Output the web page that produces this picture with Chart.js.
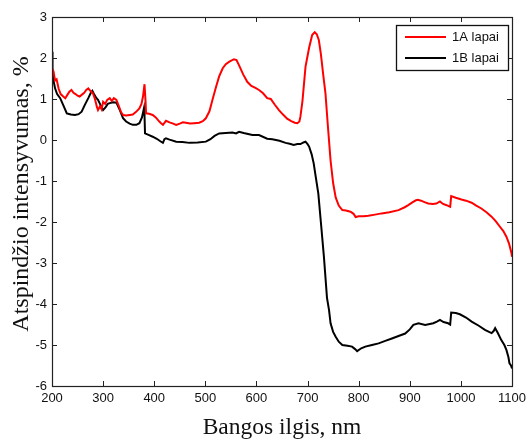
<!DOCTYPE html>
<html>
<head>
<meta charset="utf-8">
<script src="https://cdn.jsdelivr.net/npm/chart.js@4.4.1/dist/chart.umd.min.js"></script>
<style>
  html, body { margin: 0; padding: 0; background: #fff; }
  #wrap { width: 531px; height: 442px; position: relative; }
</style>
</head>
<body>
<div id="wrap"><canvas id="spectrum"></canvas></div>
<script>
// 1A lapai
const nmA = [200,203,206,209,213,217,222,226,230,234,238,242,246,250,254,258,263,267,271,275,280,284,288,290,294,297,300,304,308,313,317,321,326,330,335,339,345,352,358,364,371,375,378,381,383,384,390,397,403,410,414,417,420,423,430,437,443,450,456,462,470,478,488,495,501,508,514,521,527,534,540,547,556,561,566,574,582,590,598,605,613,621,628,636,644,652,660,668,675,680,684,686,690,696,703,709,714,718,722,726,731,735,740,745,750,755,761,768,775,784,790,794,800,810,819,832,845,860,878,890,897,905,912,916,922,930,936,945,952,959,965,972,979,981,990,1001,1010,1021,1030,1040,1050,1060,1068,1076,1083,1089,1094,1099,1100];
const valA = [1.75,1.67,1.45,1.48,1.25,1.12,1.06,1.02,1.10,1.18,1.22,1.15,1.12,1.08,1.06,1.10,1.15,1.22,1.26,1.20,1.14,1.00,0.80,0.73,0.82,0.75,0.93,0.88,0.98,1.02,0.95,1.02,0.98,0.85,0.68,0.61,0.60,0.61,0.62,0.68,0.77,0.88,1.06,1.36,0.95,0.65,0.64,0.61,0.55,0.45,0.40,0.37,0.42,0.47,0.43,0.40,0.37,0.40,0.43,0.42,0.40,0.41,0.42,0.46,0.53,0.70,0.98,1.30,1.55,1.75,1.85,1.91,1.97,1.95,1.82,1.60,1.42,1.32,1.27,1.22,1.14,1.02,1.00,0.86,0.73,0.62,0.52,0.46,0.42,0.41,0.45,0.57,0.95,1.79,2.25,2.56,2.63,2.58,2.44,2.10,1.55,1.14,0.30,-0.50,-1.05,-1.40,-1.60,-1.71,-1.72,-1.75,-1.80,-1.88,-1.86,-1.86,-1.85,-1.82,-1.79,-1.76,-1.71,-1.64,-1.59,-1.52,-1.47,-1.46,-1.48,-1.52,-1.55,-1.56,-1.55,-1.50,-1.56,-1.59,-1.63,-1.37,-1.41,-1.45,-1.48,-1.53,-1.60,-1.67,-1.76,-1.87,-1.98,-2.11,-2.22,-2.36,-2.52,-2.76,-2.85];

// 1B lapai
const nmB = [200,201,203,206,210,216,222,229,237,245,252,258,264,271,276,279,283,287,290,295,300,305,309,313,320,326,332,339,345,352,358,365,371,376,380,381,382,390,397,405,412,417,420,423,430,443,455,469,485,501,510,518,527,540,553,560,566,575,592,605,621,631,645,657,665,673,680,686,692,696,700,703,708,712,716,721,726,732,738,742,745,750,755,761,768,778,787,793,797,805,813,826,839,852,865,878,891,900,907,917,930,946,953,959,966,975,979,981,990,998,1010,1021,1035,1047,1055,1060,1064,1067,1072,1079,1085,1089,1093,1095,1098,1100];
const valB = [2.15,1.70,1.45,1.26,1.12,1.02,0.85,0.65,0.62,0.61,0.63,0.69,0.85,1.02,1.15,1.20,1.10,1.02,0.98,0.85,0.73,0.80,0.88,0.90,0.92,0.91,0.75,0.53,0.45,0.40,0.37,0.37,0.41,0.55,0.78,0.60,0.16,0.12,0.08,0.03,-0.03,-0.07,0.02,0.04,0.01,-0.04,-0.05,-0.07,-0.06,-0.04,0.02,0.10,0.16,0.17,0.18,0.16,0.20,0.17,0.12,0.12,0.03,0.02,-0.02,-0.07,-0.09,-0.12,-0.10,-0.10,-0.06,-0.04,-0.10,-0.16,-0.35,-0.57,-0.90,-1.30,-2.00,-2.85,-3.85,-4.15,-4.47,-4.68,-4.80,-4.92,-5.00,-5.02,-5.04,-5.10,-5.15,-5.08,-5.04,-5.00,-4.96,-4.90,-4.84,-4.78,-4.72,-4.62,-4.51,-4.47,-4.51,-4.47,-4.43,-4.39,-4.44,-4.47,-4.50,-4.21,-4.22,-4.25,-4.33,-4.43,-4.53,-4.63,-4.68,-4.71,-4.66,-4.59,-4.70,-4.88,-5.00,-5.12,-5.30,-5.45,-5.50,-5.57];

const xTicks = [200,300,400,500,600,700,800,900,1000,1100];
const yTicks = [-6,-5,-4,-3,-2,-1,0,1,2,3];
const yTitle = 'Atspindžio intensyvumas, %';

const toPoints = (xs, ys) => xs.map((x, i) => ({ x: x, y: ys[i] }));
const serif = '"Liberation Serif", "Times New Roman", serif';
const sans = '"Liberation Sans", Arial, sans-serif';

// box frame, inward ticks on all four sides, legend inside the plot, y title
const frameAndLegend = {
  id: 'frameAndLegend',
  afterDatasetsDraw(chart) {
    const { ctx, chartArea: a, scales } = chart;
    const tl = 5;
    ctx.save();
    ctx.strokeStyle = '#222';
    ctx.lineWidth = 1;
    ctx.beginPath();
    xTicks.forEach(v => {
      const px = Math.round(scales.x.getPixelForValue(v)) + 0.5;
      ctx.moveTo(px, a.bottom); ctx.lineTo(px, a.bottom - tl);
      ctx.moveTo(px, a.top); ctx.lineTo(px, a.top + tl);
    });
    yTicks.forEach(v => {
      const py = Math.round(scales.y.getPixelForValue(v)) + 0.5;
      ctx.moveTo(a.left, py); ctx.lineTo(a.left + tl, py);
      ctx.moveTo(a.right, py); ctx.lineTo(a.right - tl, py);
    });
    ctx.stroke();
    ctx.lineWidth = 1.2;
    ctx.strokeRect(Math.round(a.left) + 0.5, Math.round(a.top) + 0.5,
      Math.round(a.right - a.left), Math.round(a.bottom - a.top));

    // legend box
    const bx = 396, by = 25, bw = 112, bh = 45;
    ctx.fillStyle = '#fff';
    ctx.fillRect(bx, by, bw, bh);
    ctx.lineWidth = 1.3;
    ctx.strokeStyle = '#111';
    ctx.strokeRect(bx + 0.5, by + 0.5, bw, bh);
    ctx.font = '13px ' + sans;
    ctx.textBaseline = 'middle';
    chart.data.datasets.forEach((ds, i) => {
      const ly = by + 12 + i * 21;
      ctx.strokeStyle = ds.borderColor;
      ctx.lineWidth = 2;
      ctx.beginPath();
      ctx.moveTo(bx + 9, ly); ctx.lineTo(bx + 50, ly);
      ctx.stroke();
      ctx.fillStyle = '#111';
      ctx.fillText(ds.label, bx + 56, ly);
    });

    // rotated y title, sits a little above the axis centre
    ctx.translate(22, 194);
    ctx.rotate(-Math.PI / 2);
    ctx.font = '24px ' + serif;
    ctx.fillStyle = '#111';
    ctx.textAlign = 'center';
    ctx.textBaseline = 'middle';
    ctx.fillText(yTitle, 0, 0);
    ctx.restore();
  }
};

new Chart(document.getElementById('spectrum'), {
  type: 'line',
  data: {
    datasets: [
      { label: '1A lapai', data: toPoints(nmA, valA), borderColor: '#ff0000', borderWidth: 2, pointRadius: 0, tension: 0 },
      { label: '1B lapai', data: toPoints(nmB, valB), borderColor: '#000000', borderWidth: 2, pointRadius: 0, tension: 0 }
    ]
  },
  options: {
    responsive: true,
    maintainAspectRatio: false,
    animation: false,
    layout: { padding: { top: 17, right: 17, left: 0, bottom: 0 } },
    plugins: { legend: { display: false }, tooltip: { enabled: false } },
    scales: {
      x: {
        type: 'linear',
        min: 200, max: 1100,
        afterBuildTicks: s => { s.ticks = xTicks.map(v => ({ value: v })); },
        afterFit: s => { s.height = 56; },
        grid: { display: false, drawTicks: false },
        border: { display: false },
        ticks: { padding: 5, color: '#111', font: { family: sans, size: 13 }, callback: v => String(v) },
        title: {
          display: true, text: 'Bangos ilgis, nm', color: '#111',
          font: { family: serif, size: 23.5 },
          padding: { top: 0, bottom: 0 }
        }
      },
      y: {
        min: -6, max: 3,
        afterBuildTicks: s => { s.ticks = yTicks.map(v => ({ value: v })); },
        afterFit: s => { s.width = 52; },
        grid: { display: false, drawTicks: false },
        border: { display: false },
        ticks: { padding: 5, color: '#111', font: { family: sans, size: 13 }, callback: v => String(v) }
      }
    }
  },
  plugins: [frameAndLegend]
});
</script>
</body>
</html>
